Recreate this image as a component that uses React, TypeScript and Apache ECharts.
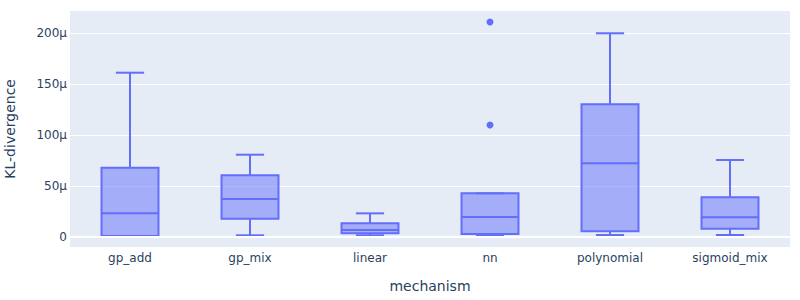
import React, { useEffect, useRef } from "react";
import * as echarts from "echarts";

// Categories (mechanism)
const categories = ["gp_add", "gp_mix", "linear", "nn", "polynomial", "sigmoid_mix"];
// KL-divergence values, in micro units (μ)
const lowerWhisker = [0.5, 1.4, 1.4, 1.4, 1.7, 1.7];
const q1 = [0.7, 17.7, 3.3, 2.7, 5.3, 7.9];
const median = [23.0, 37.1, 6.6, 19.4, 72.2, 19.1];
const q3 = [67.9, 60.4, 13.2, 42.7, 130.3, 38.8];
const upperWhisker = [161.4, 80.7, 23.0, 42.7, 200.2, 75.5];
// Outliers: [category index, value]
const outlierCategory = [3, 3];
const outlierValue = [211.3, 110.0];

const yTickValues = [0, 50, 100, 150, 200];

const COLOR = "#636efa";
const FILL = "rgba(99,110,250,0.5)";
const FONT = "DejaVu Sans, Verdana, sans-serif";
const TEXT = "#2a3f5f";

export default function App() {
  const ref = useRef<HTMLDivElement>(null);
  useEffect(() => {
    if (!ref.current) return;
    const chart = echarts.init(ref.current, undefined, { renderer: "svg" });
    const boxData = categories.map((_, i) => [
      i,
      lowerWhisker[i],
      q1[i],
      median[i],
      q3[i],
      upperWhisker[i],
    ]);
    const outliers = outlierCategory.map((c, i) => [c, outlierValue[i]]);
    chart.setOption({
      animation: false,
      backgroundColor: "#ffffff",
      grid: {
        left: 70,
        right: 10,
        top: 10,
        height: 237.7,
        backgroundColor: "#e5ecf6",
        show: true,
        borderWidth: 0,
        containLabel: false,
        outerBoundsMode: "none",
      },
      xAxis: {
        type: "category",
        data: categories,
        name: "mechanism",
        nameLocation: "middle",
        nameGap: 31,
        nameTextStyle: { fontFamily: FONT, fontSize: 14, color: TEXT },
        axisLine: { show: false },
        axisTick: { show: false },
        axisLabel: { fontFamily: FONT, fontSize: 12, color: TEXT, margin: 4 },
        splitLine: { show: false },
      },
      yAxis: {
        type: "value",
        min: -10.8,
        max: 223.1,
        splitNumber: 5,
        name: "KL-divergence",
        nameLocation: "middle",
        nameGap: 53,
        nameTextStyle: { fontFamily: FONT, fontSize: 14, color: TEXT },
        axisLine: { show: false },
        axisTick: { show: false },
        axisLabel: {
          fontFamily: FONT,
          fontSize: 12,
          color: TEXT,
          margin: 3,
          showMinLabel: false,
          showMaxLabel: false,
          formatter: (v: number) => {
            const m = yTickValues.find((t) => Math.abs(t - v) < 1e-6);
            if (m === undefined) return "";
            return m === 0 ? "0" : m + "μ";
          },
        },
        splitLine: { show: true, lineStyle: { color: "#ffffff", width: 1 } },
      },
      series: [
        {
          type: "line",
          data: [],
          silent: true,
          z: 1,
          markLine: {
            silent: true,
            symbol: "none",
            label: { show: false },
            lineStyle: { color: "#ffffff", width: 2, type: "solid" },
            data: [{ yAxis: 0 }],
          },
        },
        {
          type: "custom",
          z: 3,
          data: boxData,
          encode: { x: 0, y: [1, 2, 3, 4, 5] },
          renderItem: (params: any, api: any) => {
            const c = api.value(0);
            const pLo = api.coord([c, api.value(1)]);
            const pQ1 = api.coord([c, api.value(2)]);
            const pMed = api.coord([c, api.value(3)]);
            const pQ3 = api.coord([c, api.value(4)]);
            const pHi = api.coord([c, api.value(5)]);
            const band = api.size([1, 0])[0];
            const bw = band * 0.475;
            const cw = band * 0.235;
            const cx = pQ1[0];
            const ls = { stroke: COLOR, lineWidth: 2, fill: null };
            return {
              type: "group",
              children: [
                {
                  type: "line",
                  shape: { x1: cx, y1: pQ3[1], x2: cx, y2: pHi[1] },
                  style: ls,
                },
                {
                  type: "line",
                  shape: { x1: cx, y1: pQ1[1], x2: cx, y2: pLo[1] },
                  style: ls,
                },
                {
                  type: "line",
                  shape: { x1: cx - cw / 2, y1: pHi[1], x2: cx + cw / 2, y2: pHi[1] },
                  style: ls,
                },
                {
                  type: "line",
                  shape: { x1: cx - cw / 2, y1: pLo[1], x2: cx + cw / 2, y2: pLo[1] },
                  style: ls,
                },
                {
                  type: "rect",
                  shape: { x: cx - bw / 2, y: pQ3[1], width: bw, height: pQ1[1] - pQ3[1] },
                  style: { fill: FILL, stroke: COLOR, lineWidth: 2 },
                },
                {
                  type: "line",
                  shape: { x1: cx - bw / 2, y1: pMed[1], x2: cx + bw / 2, y2: pMed[1] },
                  style: ls,
                },
              ],
            };
          },
        },
        {
          type: "scatter",
          z: 4,
          data: outliers,
          symbol: "circle",
          symbolSize: 7,
          itemStyle: { color: COLOR, opacity: 1 },
        },
      ],
    });
    return () => chart.dispose();
  }, []);
  return (
    <div
      ref={ref}
      style={{ position: "absolute", left: 0, top: 0, width: 800, height: 300 }}
    />
  );
}
